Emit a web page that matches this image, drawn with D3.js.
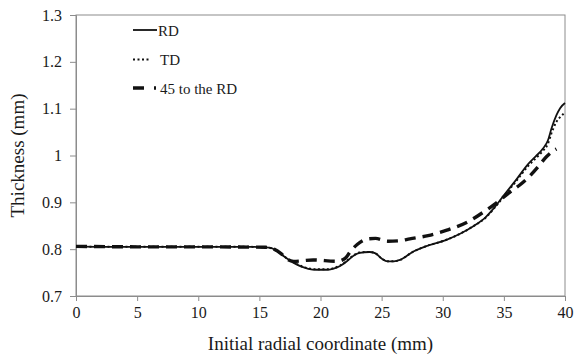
<!DOCTYPE html>
<html><head><meta charset="utf-8">
<script src="https://cdn.jsdelivr.net/npm/d3@7"></script>
<style>
html,body{margin:0;padding:0;background:#fff;}
svg, svg text{font-family:"Liberation Serif","Times New Roman",serif !important;}
</style></head>
<body><svg id="chart" width="579" height="357"></svg>
<script>
const xTicks = [0,5,10,15,20,25,30,35,40];
const yTicks = [0.7,0.8,0.9,1.0,1.1,1.2,1.3];
const yTickLabels = ["0.7","0.8","0.9","1","1.1","1.2","1.3"];
const seriesNames = ["RD","TD","45 to the RD"];

const rdX = [0,2,5,10,14,15.5,16,16.5,17,17.5,18,18.5,19,19.7,20.5,21,21.6,22.2,22.7,23.2,24,24.5,25,25.5,26,26.5,27.6,28.5,30.3,31.5,32.5,33.5,34.2,35,36,37,37.6,38.2,38.6,38.9,39.3,39.6,40];
const rdY = [0.806,0.805,0.805,0.805,0.805,0.804,0.802,0.795,0.785,0.776,0.768,0.762,0.758,0.756,0.756,0.758,0.764,0.775,0.786,0.792,0.794,0.791,0.780,0.774,0.774,0.777,0.795,0.805,0.820,0.834,0.849,0.868,0.888,0.915,0.948,0.982,0.998,1.015,1.032,1.058,1.086,1.101,1.112];

const tdX = [0,2,5,10,14,15.5,16,16.5,17,17.5,18,18.5,19,19.7,20.5,21,21.6,22.2,22.7,23.2,24,24.5,25,25.5,26,26.5,27.6,28.5,30.3,31.5,32.5,33.5,34.2,35,36,37,37.6,38.2,38.6,38.9,39.3,39.6,40];
const tdY = [0.806,0.805,0.805,0.805,0.805,0.804,0.802,0.795,0.785,0.776,0.769,0.763,0.759,0.757,0.757,0.759,0.765,0.776,0.787,0.793,0.794,0.791,0.780,0.774,0.774,0.777,0.795,0.805,0.820,0.834,0.849,0.867,0.887,0.913,0.945,0.978,0.994,1.010,1.025,1.048,1.072,1.082,1.092];

const d45X = [0,5,10,15.5,16.2,16.8,17.3,17.8,19.4,21.3,22.0,22.5,23.0,23.9,24.5,25.5,26.5,27.3,28.8,30.4,32.1,33.6,34.2,35.5,36.3,37.0,37.8,38.5,39.1,39.3];
const d45Y = [0.806,0.805,0.805,0.804,0.800,0.790,0.778,0.774,0.777,0.774,0.780,0.797,0.810,0.822,0.823,0.817,0.818,0.822,0.829,0.841,0.859,0.884,0.895,0.922,0.937,0.953,0.976,0.998,1.011,1.014];

const FONT = "'Liberation Serif','Times New Roman',serif";
const svg = d3.select("#chart");
const margin = {left:76, right:14, top:15, bottom:61};
const W = 579, H = 357;
const x = d3.scaleLinear().domain([0,40]).range([margin.left, W - margin.right]);
const y = d3.scaleLinear().domain([0.7,1.3]).range([H - margin.bottom, margin.top]);
const axisColor = "#8c8c8c";

// frame
svg.append("rect").attr("x", x(0)).attr("y", y(1.3))
  .attr("width", x(40)-x(0)).attr("height", y(0.7)-y(1.3))
  .attr("fill","none").attr("stroke",axisColor).attr("stroke-width",1);

// x axis
const xAxis = svg.append("g").attr("transform",`translate(0,${y(0.7)})`)
  .call(d3.axisBottom(x).tickValues(xTicks).tickSize(5).tickPadding(6).tickFormat(d3.format("d")))
  .attr("font-family", null);
xAxis.select(".domain").attr("stroke",axisColor);
xAxis.selectAll(".tick line").attr("stroke",axisColor);
xAxis.selectAll(".tick text").style("font-size","16px").attr("fill","#1a1a1a")
  .style("font-family",FONT);

// y axis
const yAxis = svg.append("g").attr("transform",`translate(${x(0)},0)`)
  .call(d3.axisLeft(y).tickValues(yTicks).tickSize(6).tickPadding(8).tickFormat((d,i)=>yTickLabels[i]))
  .attr("font-family", null);
yAxis.select(".domain").attr("stroke",axisColor);
yAxis.selectAll(".tick line").attr("stroke",axisColor);
yAxis.selectAll(".tick text").style("font-size","16px").attr("fill","#1a1a1a")
  .style("font-family",FONT);

// titles
svg.append("text").attr("x",(x(0)+x(40))/2).attr("y",350)
  .attr("text-anchor","middle").style("font-size","19px").attr("fill","#1a1a1a")
  .style("font-family",FONT)
  .text("Initial radial coordinate (mm)");
svg.append("text").attr("transform",`translate(24,${(y(0.7)+y(1.3))/2}) rotate(-90)`)
  .attr("text-anchor","middle").style("font-size","19px").attr("fill","#1a1a1a")
  .style("font-family",FONT)
  .text("Thickness (mm)");

const line = d3.line().x(d=>x(d[0])).y(d=>y(d[1])).curve(d3.curveMonotoneX);
const zip = (a,b)=>a.map((v,i)=>[v,b[i]]);

const styles = [
  {data: zip(rdX,rdY), w:1.8, dash:null},
  {data: zip(tdX,tdY), w:2, dash:"2,2.5"},
  {data: zip(d45X,d45Y), w:3.4, dash:"11,7"}
];
const plot = svg.append("g");
plot.append("path").attr("d", line(styles[2].data)).attr("fill","none").attr("stroke","#111")
  .attr("stroke-width",styles[2].w).attr("stroke-dasharray",styles[2].dash);
plot.append("path").attr("d", line(styles[1].data)).attr("fill","none").attr("stroke","#111")
  .attr("stroke-width",styles[1].w).attr("stroke-dasharray",styles[1].dash);
plot.append("path").attr("d", line(styles[0].data)).attr("fill","none").attr("stroke","#111")
  .attr("stroke-width",styles[0].w);

// legend
const leg = svg.append("g");
const legRows = [
  {y:30, x2:157, w:1.8, dash:null, tx:158},
  {y:59.5, x2:151, w:2, dash:"2,2.5", tx:160},
  {y:88, x2:156, w:3.6, dash:"11,10", tx:160}
];
legRows.forEach((r,i)=>{
  leg.append("line").attr("x1",133).attr("x2",r.x2).attr("y1",r.y).attr("y2",r.y)
    .attr("stroke","#111").attr("stroke-width",r.w).attr("stroke-dasharray",r.dash);
  leg.append("text").attr("x",r.tx).attr("y",r.y+5.5).style("font-size","15px").attr("fill","#1a1a1a")
    .style("font-family",FONT)
    .text(seriesNames[i]);
});
</script></body></html>
